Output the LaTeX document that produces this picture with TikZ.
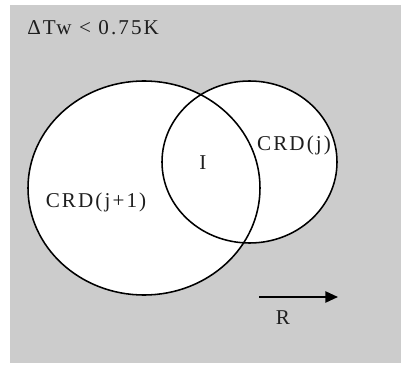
\documentclass[tikz,border=0pt]{standalone}
\usepackage{fontspec}
\setmainfont{Liberation Serif}[LetterSpace=10]
\usepackage{tikz}
\usetikzlibrary{
    arrows.meta,
    positioning
}
\definecolor{panelgray}{RGB}{204,204,204}
\definecolor{inkgray}{RGB}{30,30,30}

\begin{document}
\begin{tikzpicture}[
  x=0.025cm, y=-0.025cm,
  region/.style={draw=black, line width=1.1pt},
  lbl/.style={font=\fontsize{15}{17}\selectfont, text=inkgray, inner sep=0pt},
  arr/.style={-{Triangle[length=9pt, width=8pt]}, line width=1.2pt}
]
\useasboundingbox (0,0) rectangle (401,374);
\fill[panelgray] (10,5) rectangle (401,363);

% the two regions
\fill[white] (144,188) ellipse [x radius=116, y radius=107];
\fill[white] (249.5,162) ellipse [x radius=87.5, y radius=81];
\draw[region] (144,188) ellipse [x radius=116, y radius=107];
\draw[region] (249.5,162) ellipse [x radius=87.5, y radius=81];

\node[lbl, anchor=west] (dtw) at (27,28) {ΔTw < 0.75K};
\node[lbl] (crdj) at (294,145) {CRD(j)};
\node[lbl] (inter) at (203,163) {I};
\node[lbl] (crdjj) at (96,202) {CRD(j+1)};

% direction of R
\coordinate (rs) at (259,297);
\coordinate (re) at (338,297);
\draw[arr] (rs) -- (re);
\node[lbl] (rlab) at (283,318) {R};

\end{tikzpicture}
\end{document}
